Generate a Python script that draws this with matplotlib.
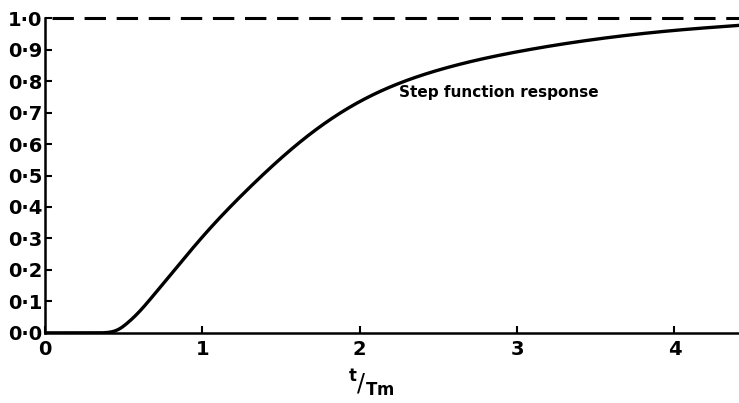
import matplotlib
matplotlib.use('Agg')
import matplotlib.pyplot as plt
import numpy as np

# step function response
t_over_tm = [0.0, 0.35, 0.42, 0.47, 0.52, 0.6, 0.67, 0.8, 1.0, 1.3,
             1.68, 2.0, 2.5, 3.0, 3.5, 4.0, 4.41]
response = [0.0, 0.0, 0.003, 0.012, 0.03, 0.068, 0.108, 0.186, 0.305, 0.462,
            0.63, 0.735, 0.835, 0.893, 0.933, 0.961, 0.977]
final_value = 1.0
y_ticks = [0.0, 0.1, 0.2, 0.3, 0.4, 0.5, 0.6, 0.7, 0.8, 0.9, 1.0]
x_ticks = [0, 1, 2, 3, 4]


def spline(x, y, xn):
    # natural cubic spline through the read points
    x = np.asarray(x, float)
    y = np.asarray(y, float)
    n = len(x)
    h = np.diff(x)
    A = np.zeros((n, n))
    b = np.zeros(n)
    A[0, 0] = A[-1, -1] = 1
    for k in range(1, n - 1):
        A[k, k - 1] = h[k - 1]
        A[k, k] = 2 * (h[k - 1] + h[k])
        A[k, k + 1] = h[k]
        b[k] = 6 * ((y[k + 1] - y[k]) / h[k] - (y[k] - y[k - 1]) / h[k - 1])
    M = np.linalg.solve(A, b)
    i = np.clip(np.searchsorted(x, xn) - 1, 0, n - 2)
    a = x[i + 1] - xn
    c = xn - x[i]
    return (M[i] * a**3 / (6 * h[i]) + M[i + 1] * c**3 / (6 * h[i])
            + (y[i] / h[i] - M[i] * h[i] / 6) * a
            + (y[i + 1] / h[i] - M[i + 1] * h[i] / 6) * c)


fig = plt.figure(figsize=(7.39, 4.03), dpi=100)
ax = fig.add_axes([0.061, 0.174, 0.939, 0.781])

tt = np.linspace(0, 4.41, 600)
yy = spline(t_over_tm[1:], response[1:], tt)
yy[tt <= t_over_tm[1]] = 0.0
ax.plot(tt, yy, color='black', lw=2.4, solid_capstyle='round')
ax.axhline(final_value, xmin=0.01, color='black', lw=2.2,
           dashes=(7, 3.5), clip_on=False)

ax.text(2.25, 0.75, 'Step function response', fontsize=11, fontweight='bold')

ax.set_xlim(0, 4.41)
ax.set_ylim(0, 1.0)
ax.set_xticks(x_ticks)
ax.set_xticklabels([str(v) for v in x_ticks], fontsize=14, fontweight='bold')
ax.set_yticks(y_ticks)
ax.set_yticklabels([f'{v:.1f}'.replace('.', '\u00b7') for v in y_ticks],
                   fontsize=14, fontweight='bold')
ax.tick_params(direction='in', length=5, width=1.5, pad=2)
ax.tick_params(axis='x', pad=5)

for side in ['top', 'right']:
    ax.spines[side].set_visible(False)
for side in ['left', 'bottom']:
    ax.spines[side].set_linewidth(1.8)

ax.set_xlabel(r'$^{\mathbf{t}}/_{\mathbf{Tm}}$', fontsize=17)
ax.xaxis.set_label_coords(0.47, -0.11)

plt.savefig('out.png', dpi=100)
